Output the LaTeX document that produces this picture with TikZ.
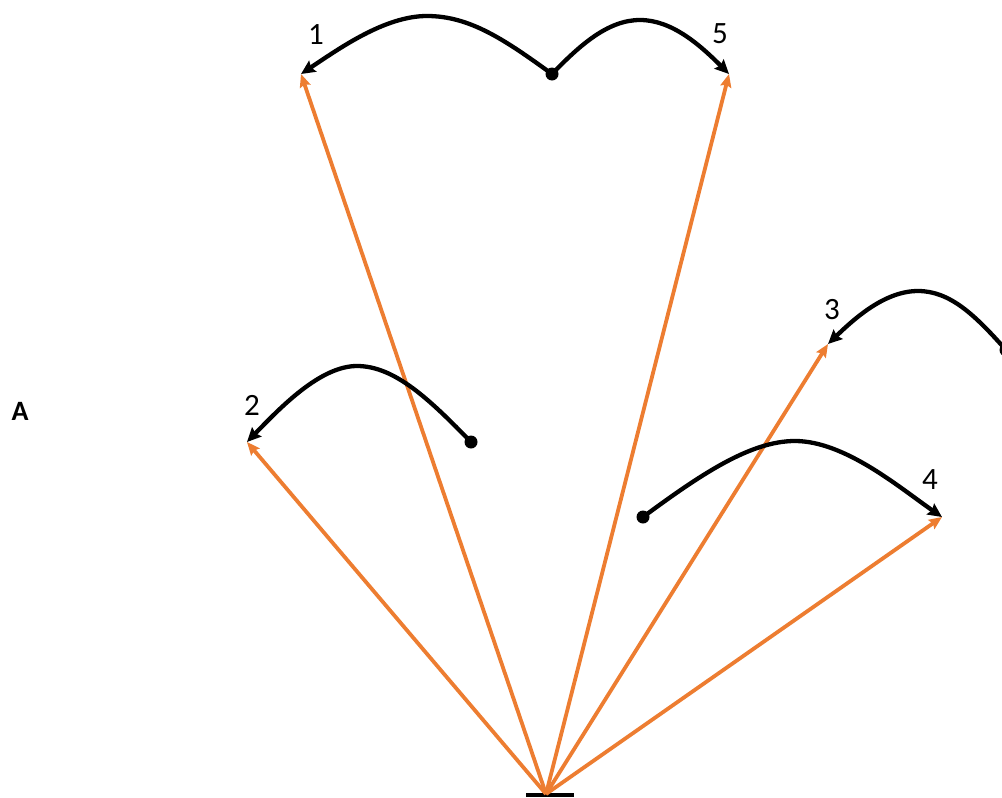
\documentclass[tikz,border=0pt]{standalone}
\usepackage{fontspec}
\setmainfont{Carlito}
\usetikzlibrary{arrows.meta}
\definecolor{ray}{RGB}{237,125,49}
\tikzset{
  rayline/.style={draw=ray,line width=3.8pt,-{Stealth[length=13pt,width=11pt,inset=2pt]}},
  jump/.style={draw=black,line width=4.3pt,-{Stealth[length=14pt,width=13pt,inset=2pt]}},
  spot/.style={circle,fill=black,inner sep=0pt,minimum size=13pt},
  lab/.style={font=\fontsize{31}{36}\selectfont,inner sep=0pt}
}
\begin{document}
\begin{tikzpicture}[x=1pt,y=-1pt]
\useasboundingbox (0,0) rectangle (1002,798);
% base
\coordinate (base) at (546,794);
\coordinate (bl) at (526,795);
\coordinate (br) at (574,795);
\draw[line width=4.5pt] (bl) -- (br);
% ray ends
\coordinate (e1) at (301,74);
\coordinate (e5) at (729,74);
\coordinate (e2) at (247,442);
\coordinate (e3) at (828,344);
\coordinate (e4) at (942,517);
\draw[rayline] (base) -- (e1);
\draw[rayline] (base) -- (e5);
\draw[rayline] (base) -- (e2);
\draw[rayline] (base) -- (e3);
\draw[rayline] (base) -- (e4);
% start dots
\node[spot] (d15) at (552,74) {};
\node[spot] (d2) at (471,442) {};
\node[spot] (d3) at (1006,350) {};
\node[spot] (d4) at (643,517) {};
% jumps
\draw[jump] (d15.center) .. controls (505,40) and (470,16) .. (427,16)
  .. controls (385,16) and (340,48) .. (e1);
\draw[jump] (d15.center) .. controls (580,45) and (608,20) .. (640,20)
  .. controls (672,20) and (700,45) .. (e5);
\draw[jump] (d2.center) .. controls (430,400) and (395,366) .. (357,366)
  .. controls (320,366) and (280,408) .. (e2);
\draw[jump] (d3.center) .. controls (975,315) and (950,291) .. (918,291)
  .. controls (885,291) and (855,318) .. (e3);
\draw[jump] (d4.center) .. controls (700,475) and (750,441) .. (795,441)
  .. controls (845,441) and (900,488) .. (e4);
% labels
\node[lab] (l1) at (316,35) {1};
\node[lab] (l5) at (720,34) {5};
\node[lab] (l2) at (252,405) {2};
\node[lab] (l3) at (832,310) {3};
\node[lab] (l4) at (930,480) {4};
\node[lab,font=\fontsize{28}{33}\selectfont\bfseries] (la) at (20,411) {A};
\end{tikzpicture}
\end{document}
